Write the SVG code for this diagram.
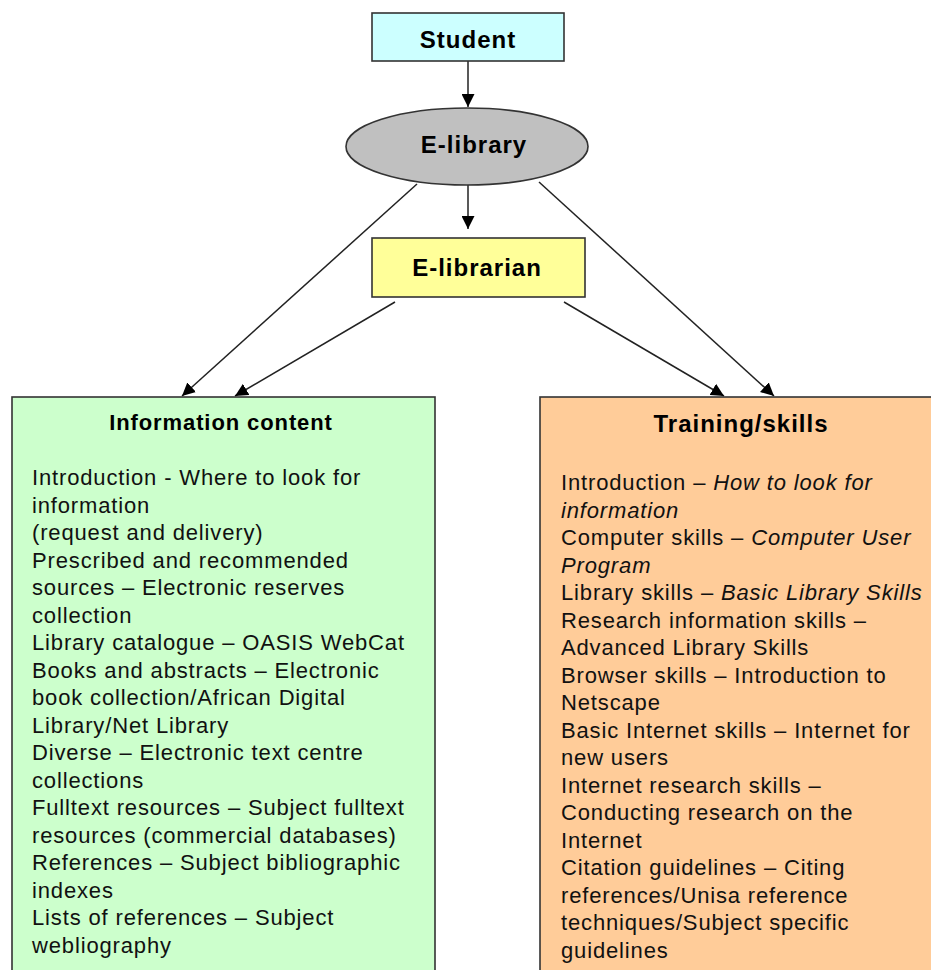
<svg xmlns="http://www.w3.org/2000/svg" width="931" height="970" viewBox="0 0 931 970">
<style>
.lbl{font-family:"Liberation Sans",Arial,sans-serif;font-weight:bold;font-size:24px;letter-spacing:1px;fill:#000;text-anchor:middle}
.ttl{font-family:"Liberation Sans",Arial,sans-serif;font-weight:bold;fill:#000;text-anchor:middle}
.body{font-family:"Liberation Sans",Arial,sans-serif;font-size:22px;letter-spacing:0.85px;fill:#111}
.it{font-style:italic}
.box{stroke:#333;stroke-width:1.6}
.edge{stroke:#222;stroke-width:1.5;fill:none;marker-end:url(#ah)}
</style>
<defs>
<marker id="ah" markerUnits="userSpaceOnUse" markerWidth="13" markerHeight="13" refX="13" refY="6.5" orient="auto">
<path d="M0,0 L13,6.5 L0,13 z" fill="#000"/>
</marker>
</defs>
<rect width="931" height="970" fill="#fff"/>
<g id="connectors">
<line class="edge" x1="468" y1="61" x2="468" y2="107"/>
<line class="edge" x1="468" y1="185" x2="468" y2="229"/>
<line class="edge" x1="417" y1="184" x2="182" y2="396"/>
<line class="edge" x1="395" y1="302" x2="235" y2="396"/>
<line class="edge" x1="564" y1="302" x2="724" y2="396"/>
<line class="edge" x1="539" y1="182" x2="774" y2="396"/>
</g>
<g id="student">
<rect class="box" x="372" y="13" width="192" height="48" fill="#CCFFFF"/>
<text class="lbl" x="468" y="48">Student</text>
</g>
<g id="elibrary">
<ellipse class="box" cx="467" cy="146.5" rx="121" ry="38.5" fill="#C0C0C0"/>
<text class="lbl" x="474" y="153">E-library</text>
</g>
<g id="elibrarian">
<rect class="box" x="372" y="238" width="213" height="59" fill="#FFFF99"/>
<text class="lbl" x="477" y="276">E-librarian</text>
</g>
<g id="information">
<rect class="box" x="12" y="397" width="423" height="590" fill="#CCFFCC"/>
<text class="ttl" x="221" y="430" font-size="22" letter-spacing="0.9">Information content</text>
<text class="body" x="32">
<tspan x="32" y="485">Introduction - Where to look for</tspan>
<tspan x="32" y="512.5">information</tspan>
<tspan x="32" y="540">(request and delivery)</tspan>
<tspan x="32" y="567.5">Prescribed and recommended</tspan>
<tspan x="32" y="595">sources – Electronic reserves</tspan>
<tspan x="32" y="622.5">collection</tspan>
<tspan x="32" y="650">Library catalogue – OASIS WebCat</tspan>
<tspan x="32" y="677.5">Books and abstracts – Electronic</tspan>
<tspan x="32" y="705">book collection/African Digital</tspan>
<tspan x="32" y="732.5">Library/Net Library</tspan>
<tspan x="32" y="760">Diverse – Electronic text centre</tspan>
<tspan x="32" y="787.5">collections</tspan>
<tspan x="32" y="815">Fulltext resources – Subject fulltext</tspan>
<tspan x="32" y="842.5">resources (commercial databases)</tspan>
<tspan x="32" y="870">References – Subject bibliographic</tspan>
<tspan x="32" y="897.5">indexes</tspan>
<tspan x="32" y="925">Lists of references – Subject</tspan>
<tspan x="32" y="952.5">webliography</tspan>
</text>
</g>
<g id="training">
<rect class="box" x="540" y="397" width="420" height="590" fill="#FFCC99"/>
<text class="ttl" x="741" y="432" font-size="24" letter-spacing="1">Training/skills</text>
<text class="body" x="561">
<tspan x="561" y="490">Introduction – <tspan class="it">How to look for</tspan></tspan>
<tspan x="561" y="517.5" class="it">information</tspan>
<tspan x="561" y="545">Computer skills – <tspan class="it">Computer User</tspan></tspan>
<tspan x="561" y="572.5" class="it">Program</tspan>
<tspan x="561" y="600">Library skills – <tspan class="it">Basic Library Skills</tspan></tspan>
<tspan x="561" y="627.5">Research information skills –</tspan>
<tspan x="561" y="655">Advanced Library Skills</tspan>
<tspan x="561" y="682.5">Browser skills – Introduction to</tspan>
<tspan x="561" y="710">Netscape</tspan>
<tspan x="561" y="737.5">Basic Internet skills – Internet for</tspan>
<tspan x="561" y="765">new users</tspan>
<tspan x="561" y="792.5">Internet research skills –</tspan>
<tspan x="561" y="820">Conducting research on the</tspan>
<tspan x="561" y="847.5">Internet</tspan>
<tspan x="561" y="875">Citation guidelines – Citing</tspan>
<tspan x="561" y="902.5">references/Unisa reference</tspan>
<tspan x="561" y="930">techniques/Subject specific</tspan>
<tspan x="561" y="957.5">guidelines</tspan>
</text>
</g>
</svg>
